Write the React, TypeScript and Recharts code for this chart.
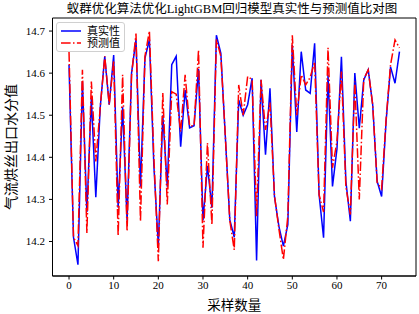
import { LineChart, Line, XAxis, YAxis, Legend, Label, ReferenceArea } from 'recharts';

const sampleIdx = Array.from({ length: 75 }, (_, i) => i);

const actualValues = [
  14.62, 14.21, 14.145, 14.58, 14.27, 14.54, 14.305, 14.52, 14.64, 14.525,
  14.643, 14.28, 14.52, 14.25, 14.6, 14.68, 14.33, 14.635, 14.68, 14.38,
  14.19, 14.5, 14.33, 14.62, 14.64, 14.425, 14.56, 14.47, 14.475, 14.61,
  14.25, 14.38, 14.28, 14.69, 14.647, 14.45, 14.252, 14.21, 14.536, 14.5,
  14.525, 14.588, 14.155, 14.584, 14.406, 14.564, 14.307, 14.236, 14.189, 14.24,
  14.667, 14.46, 14.651, 14.56, 14.552, 14.671, 14.311, 14.209, 14.596, 14.331,
  14.42, 14.639, 14.343, 14.248, 14.6, 14.469, 14.584, 14.608, 14.525, 14.343,
  14.307, 14.485, 14.615, 14.576, 14.651,
];

const predictedValues = [
  14.65, 14.21, 14.19, 14.608, 14.22, 14.58, 14.39, 14.52, 14.64, 14.525,
  14.63, 14.213, 14.596, 14.224, 14.595, 14.694, 14.248, 14.64, 14.7, 14.4,
  14.153, 14.553, 14.288, 14.556, 14.55, 14.461, 14.596, 14.475, 14.475, 14.655,
  14.185, 14.434, 14.24, 14.68, 14.64, 14.45, 14.25, 14.18, 14.572, 14.5,
  14.592, 14.585, 14.26, 14.584, 14.465, 14.53, 14.31, 14.23, 14.157, 14.26,
  14.69, 14.5, 14.596, 14.572, 14.59, 14.627, 14.311, 14.27, 14.66, 14.375,
  14.438, 14.604, 14.33, 14.264, 14.58, 14.3, 14.586, 14.608, 14.525, 14.34,
  14.325, 14.49, 14.62, 14.679, 14.66,
];

const xTicks = [0, 10, 20, 30, 40, 50, 60, 70];
const yTicks = [14.2, 14.3, 14.4, 14.5, 14.6, 14.7];

const seriesNames = { actual: '真实性', predicted: '预测值' };

const data = sampleIdx.map((idx, i) => ({
  idx,
  actual: actualValues[i],
  predicted: predictedValues[i],
}));

const X_MIN = -3.7;
const X_MAX = 77.7;
const Y_MIN = 14.118;
const Y_MAX = 14.731;

const serif = '"Liberation Serif", "Times New Roman", "Noto Sans CJK SC", serif';
const cjk = '"Liberation Serif", "Noto Sans CJK SC", serif';

const LegendBox = () => (
  <div
    style={{
      border: '1px solid #d0d0d0',
      borderRadius: 3,
      background: 'rgba(255,255,255,0.85)',
      padding: '2px 4px 2px 3px',
      fontFamily: cjk,
      fontSize: 11,
      lineHeight: '12px',
    }}
  >
    {[
      { name: seriesNames.actual, color: '#0000ff', dash: undefined },
      { name: seriesNames.predicted, color: '#ff0000', dash: '9.6 2.4 1.5 2.4' },
    ].map((item) => (
      <div key={item.name} style={{ display: 'flex', alignItems: 'center', height: 12 }}>
        <svg width={22} height={8} style={{ marginRight: 5 }}>
          <line x1={1} y1={4} x2={21} y2={4} stroke={item.color} strokeWidth={1.5} strokeDasharray={item.dash} />
        </svg>
        <span>{item.name}</span>
      </div>
    ))}
  </div>
);

const App = () => {
  return (
    <div style={{ position: 'absolute', left: 0, top: 0, width: 419, height: 314, background: '#fff' }}>
      <div
        style={{
          position: 'absolute',
          top: 2,
          left: 0,
          width: 464,
          textAlign: 'center',
          fontFamily: cjk,
          fontSize: 12.5,
          lineHeight: '15px',
          color: '#000',
        }}
      >
        蚁群优化算法优化LightGBM回归模型真实性与预测值比对图
      </div>
      <LineChart width={419} height={314} data={data} margin={{ top: 18, right: 3, left: 0, bottom: 0 }}>
        <XAxis
          dataKey="idx"
          type="number"
          domain={[X_MIN, X_MAX]}
          ticks={xTicks}
          allowDataOverflow
          height={38}
          tickSize={3.5}
          tickMargin={2}
          stroke="#000"
          tick={{ fill: '#000', fontSize: 11, fontFamily: serif }}
        >
          <Label value="采样数量" position="insideBottom" offset={4} style={{ fill: '#000', fontSize: 13.5, fontFamily: cjk }} />
        </XAxis>
        <YAxis
          type="number"
          domain={[Y_MIN, Y_MAX]}
          ticks={yTicks}
          allowDataOverflow
          width={52.5}
          tickSize={3.5}
          tickMargin={4}
          stroke="#000"
          tickFormatter={(v: number) => v.toFixed(1)}
          tick={{ fill: '#000', fontSize: 11, fontFamily: serif }}
        >
          <Label value="气流烘丝出口水分值" angle={-90} position="insideLeft" offset={11} style={{ fill: '#000', fontSize: 14, fontFamily: cjk, textAnchor: 'middle' }} />
        </YAxis>
        <ReferenceArea x1={X_MIN} x2={X_MAX} y1={Y_MIN} y2={Y_MAX} fill="none" stroke="#000" strokeWidth={1} ifOverflow="visible" />
        <Legend
          layout="vertical"
          align="center"
          verticalAlign="middle"
          wrapperStyle={{ top: 22, left: 56, width: 'auto' }}
          content={() => <LegendBox />}
        />
        <Line
          type="linear"
          dataKey="actual"
          name={seriesNames.actual}
          stroke="#0000ff"
          strokeWidth={1.5}
          dot={false}
          isAnimationActive={false}
        />
        <Line
          type="linear"
          dataKey="predicted"
          name={seriesNames.predicted}
          stroke="#ff0000"
          strokeWidth={1.5}
          strokeDasharray="9.6 2.4 1.5 2.4"
          dot={false}
          isAnimationActive={false}
        />
      </LineChart>
    </div>
  );
};

export default App;
